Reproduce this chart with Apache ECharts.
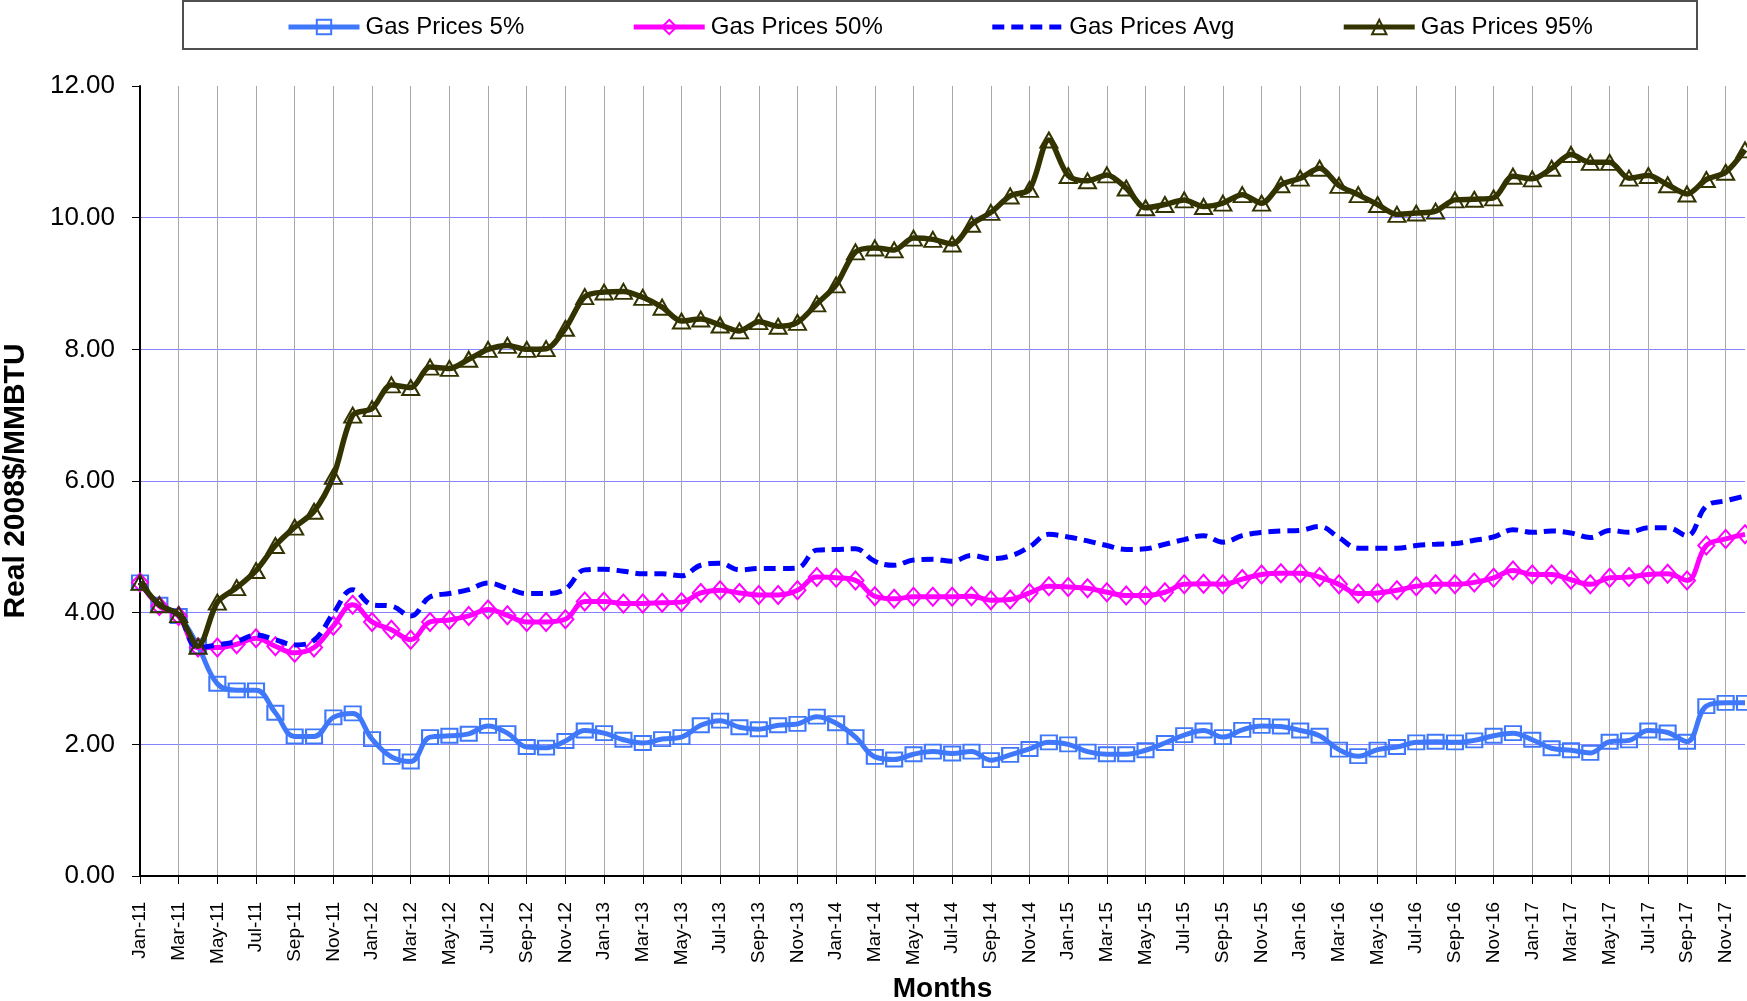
<!DOCTYPE html>
<html>
<head>
<meta charset="utf-8">
<script src="https://cdn.jsdelivr.net/npm/echarts@6/dist/echarts.min.js"></script>
<style>
html,body{margin:0;padding:0;background:#fff;}
#chart{width:1747px;height:1001px;}
</style>
</head>
<body>
<div id="chart"></div>
<script>
const months = [
"Jan-11","Feb-11","Mar-11","Apr-11","May-11","Jun-11","Jul-11","Aug-11","Sep-11","Oct-11","Nov-11","Dec-11",
"Jan-12","Feb-12","Mar-12","Apr-12","May-12","Jun-12","Jul-12","Aug-12","Sep-12","Oct-12","Nov-12","Dec-12",
"Jan-13","Feb-13","Mar-13","Apr-13","May-13","Jun-13","Jul-13","Aug-13","Sep-13","Oct-13","Nov-13","Dec-13",
"Jan-14","Feb-14","Mar-14","Apr-14","May-14","Jun-14","Jul-14","Aug-14","Sep-14","Oct-14","Nov-14","Dec-14",
"Jan-15","Feb-15","Mar-15","Apr-15","May-15","Jun-15","Jul-15","Aug-15","Sep-15","Oct-15","Nov-15","Dec-15",
"Jan-16","Feb-16","Mar-16","Apr-16","May-16","Jun-16","Jul-16","Aug-16","Sep-16","Oct-16","Nov-16","Dec-16",
"Jan-17","Feb-17","Mar-17","Apr-17","May-17","Jun-17","Jul-17","Aug-17","Sep-17","Oct-17","Nov-17","Dec-17"
];

const gasP5 = [
4.46,4.12,3.95,3.49,2.92,2.82,2.82,2.48,2.12,2.12,2.41,2.47,
2.08,1.81,1.74,2.11,2.13,2.16,2.28,2.17,1.96,1.95,2.05,2.21,
2.17,2.07,2.02,2.08,2.11,2.29,2.36,2.26,2.23,2.29,2.31,2.42,
2.32,2.11,1.81,1.77,1.85,1.89,1.86,1.89,1.76,1.84,1.93,2.03,
2.00,1.89,1.85,1.85,1.91,2.02,2.14,2.21,2.11,2.22,2.28,2.27,
2.21,2.13,1.92,1.82,1.92,1.96,2.03,2.04,2.03,2.06,2.13,2.17,
2.07,1.94,1.91,1.87,2.04,2.06,2.21,2.18,2.04,2.58,2.63,2.63
];

const gasP50 = [
4.46,4.10,3.95,3.47,3.47,3.52,3.61,3.49,3.39,3.47,3.80,4.12,
3.86,3.74,3.59,3.86,3.89,3.95,4.05,3.96,3.86,3.86,3.90,4.17,
4.17,4.14,4.14,4.15,4.16,4.30,4.34,4.30,4.27,4.27,4.34,4.54,
4.53,4.49,4.25,4.21,4.24,4.24,4.24,4.25,4.19,4.20,4.30,4.40,
4.39,4.37,4.31,4.26,4.26,4.31,4.43,4.44,4.43,4.51,4.58,4.60,
4.60,4.54,4.43,4.29,4.30,4.34,4.40,4.43,4.43,4.46,4.53,4.64,
4.58,4.58,4.50,4.43,4.53,4.54,4.58,4.59,4.49,5.02,5.12,5.19
];

const gasAvg = [
4.46,4.12,3.96,3.47,3.51,3.56,3.66,3.59,3.51,3.58,3.99,4.35,
4.12,4.10,3.95,4.24,4.29,4.35,4.45,4.37,4.29,4.29,4.36,4.65,
4.66,4.63,4.59,4.59,4.56,4.72,4.75,4.65,4.67,4.67,4.68,4.95,
4.96,4.97,4.78,4.72,4.80,4.81,4.78,4.87,4.82,4.86,5.00,5.19,
5.15,5.09,5.02,4.96,4.97,5.04,5.11,5.17,5.07,5.17,5.22,5.24,
5.25,5.31,5.14,4.98,4.98,4.98,5.02,5.04,5.05,5.10,5.15,5.26,
5.22,5.24,5.21,5.14,5.25,5.22,5.29,5.29,5.17,5.62,5.70,5.77
];

const gasP95 = [
4.46,4.12,3.97,3.49,4.16,4.38,4.64,5.02,5.30,5.54,6.07,7.00,
7.10,7.46,7.42,7.73,7.71,7.85,8.00,8.06,8.00,8.01,8.32,8.80,
8.87,8.88,8.79,8.64,8.43,8.46,8.37,8.28,8.42,8.35,8.41,8.69,
8.98,9.48,9.54,9.51,9.69,9.67,9.60,9.90,10.08,10.33,10.43,11.18,
10.64,10.56,10.65,10.45,10.15,10.20,10.27,10.17,10.22,10.35,10.22,10.50,
10.60,10.75,10.49,10.35,10.20,10.05,10.07,10.10,10.27,10.28,10.30,10.63,
10.59,10.75,10.96,10.84,10.84,10.60,10.64,10.50,10.36,10.58,10.69,11.03
];

const yTicks = [0, 2, 4, 6, 8, 10, 12];

const FONT = '"Liberation Sans", Arial, sans-serif';
const chart = echarts.init(document.getElementById('chart'), null, {renderer: 'canvas'});

const option = {
  backgroundColor: '#ffffff',
  animation: false,
  textStyle: {fontFamily: FONT},
  graphic: [{
    type: 'rect',
    z: -1,
    shape: {x: 183, y: 1, width: 1514, height: 48},
    style: {fill: '#ffffff', stroke: '#505050', lineWidth: 2}
  }],
  legend: {
    left: 286,
    top: 15,
    padding: 0,
    itemGap: 107,
    itemWidth: 71,
    itemHeight: 18,
    lineStyle: {width: 5},
    textStyle: {fontFamily: FONT, fontSize: 24, color: '#000', padding: [0, 0, 0, 1]},
    data: [
      'Gas Prices 5%',
      'Gas Prices 50%',
      {name: 'Gas Prices Avg', itemStyle: {color: 'rgba(0,0,0,0)', borderWidth: 0, opacity: 0}},
      'Gas Prices 95%'
    ]
  },
  grid: {left: 140, right: 2, top: 86, bottom: 125, containLabel: false, outerBoundsMode: 'none'},
  xAxis: {
    type: 'category',
    data: months,
    boundaryGap: false,
    name: 'Months',
    nameLocation: 'middle',
    nameGap: 99,
    nameTextStyle: {fontFamily: FONT, fontSize: 28, fontWeight: 'bold', color: '#000'},
    axisLine: {lineStyle: {color: '#000', width: 2}},
    axisTick: {show: true, interval: 1, length: 8, lineStyle: {color: '#000', width: 1}},
    axisLabel: {interval: 1, rotate: 90, margin: 26, fontSize: 19, color: '#000', fontFamily: FONT},
    splitLine: {show: true, interval: 1, lineStyle: {color: '#a8a8a8', width: 1}}
  },
  yAxis: {
    type: 'value',
    min: yTicks[0],
    max: yTicks[yTicks.length - 1],
    interval: 2,
    name: 'Real 2008$/MMBTU',
    nameLocation: 'middle',
    nameGap: 109,
    nameRotate: 90,
    nameTextStyle: {fontFamily: FONT, fontSize: 30, fontWeight: 'bold', color: '#000'},
    axisLine: {show: true, lineStyle: {color: '#000', width: 2}},
    axisTick: {show: true, length: 8, lineStyle: {color: '#000', width: 1}},
    axisLabel: {margin: 25, fontSize: 26, color: '#000', fontFamily: FONT, formatter: v => v.toFixed(2)},
    splitLine: {show: true, lineStyle: {color: ['#8585ff','#8585ff','#8585ff','#8585ff','#8585ff','#8585ff','rgba(0,0,0,0)'], width: 1}}
  },
  series: [
    {
      name: 'Gas Prices 5%',
      type: 'line',
      data: gasP5,
      smooth: 0.4,
      symbol: 'rect',
      symbolSize: [16, 14],
      showAllSymbol: true,
      lineStyle: {color: '#3f78fa', width: 5},
      itemStyle: {color: 'rgba(255,255,255,0)', borderColor: '#3f78fa', borderWidth: 2},
      z: 2
    },
    {
      name: 'Gas Prices 50%',
      type: 'line',
      data: gasP50,
      smooth: 0.4,
      symbol: 'diamond',
      symbolSize: [16, 18],
      showAllSymbol: true,
      lineStyle: {color: '#ff00ff', width: 5},
      itemStyle: {color: 'rgba(255,255,255,0)', borderColor: '#ff00ff', borderWidth: 2},
      z: 3
    },
    {
      name: 'Gas Prices Avg',
      type: 'line',
      data: gasAvg,
      smooth: 0.4,
      symbol: 'none',
      lineStyle: {color: '#0000ff', width: 5, type: [12, 7]},
      itemStyle: {color: '#0000ff'},
      z: 4
    },
    {
      name: 'Gas Prices 95%',
      type: 'line',
      data: gasP95,
      smooth: 0.3,
      symbol: 'triangle',
      symbolSize: [17, 15],
      showAllSymbol: true,
      lineStyle: {color: '#333300', width: 5.5},
      itemStyle: {color: 'rgba(255,255,255,0)', borderColor: '#333300', borderWidth: 2},
      z: 5
    }
  ]
};
chart.setOption(option);
</script>
</body>
</html>
